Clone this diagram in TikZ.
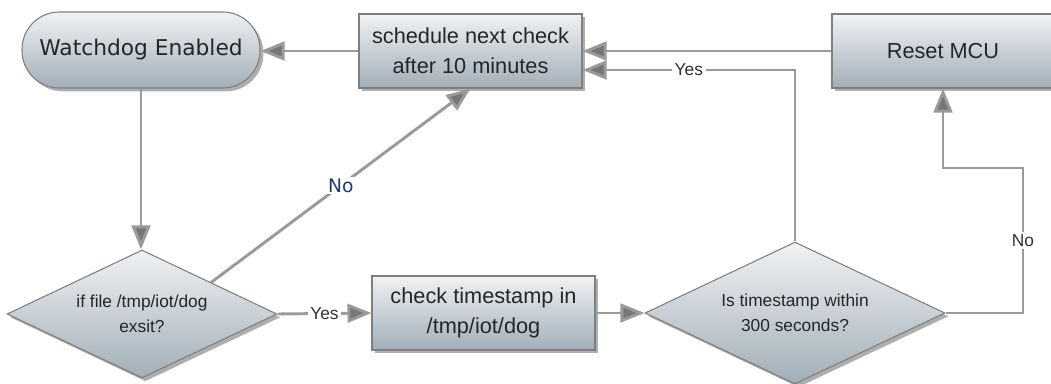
\documentclass[tikz,border=0pt]{standalone}
\usepackage{fontspec}
\setmainfont{Liberation Sans}
\newfontfamily\dejavu{DejaVu Sans}
\usetikzlibrary{shapes.geometric,arrows.meta,shadows,calc}
\definecolor{boxtop}{HTML}{F0F2F4}
\definecolor{boxbot}{HTML}{A1AEB8}
\definecolor{boxline}{HTML}{7F7F7F}
\definecolor{connline}{HTML}{9A9A9A}
\definecolor{arrowfill}{HTML}{767676}
\definecolor{navy}{HTML}{1F3A6E}
\tikzset{
  boxbase/.style={draw=boxline, line width=0.8pt, top color=boxtop, bottom color=boxbot,
    drop shadow={shadow xshift=2.5pt, shadow yshift=-2.5pt, opacity=0.45, fill=black!70},
    align=center, inner sep=0pt, text=black!85},
  bigtext/.style={font=\fontsize{16.3}{22.5}\selectfont},
  smalltext/.style={font=\fontsize{13}{19}\selectfont},
  procbox/.style={boxbase, bigtext, rectangle, minimum width=167.25pt, minimum height=55.5pt},
  startbox/.style={boxbase, rectangle, rounded corners=28pt, minimum width=178.5pt, minimum height=57pt,
    font=\dejavu\fontsize{16.3}{22.5}\selectfont},
  decbox/.style={boxbase, smalltext, diamond, aspect=2},
  conn/.style={draw=connline, line width=2.2pt, -{Triangle[length=18pt,width=14pt,fill=arrowfill]}},
  lab/.style={fill=white, inner sep=2pt, smalltext, text=black!80},
}
\begin{document}
\begin{tikzpicture}[x=0.75pt,y=-0.75pt]
\useasboundingbox (0,0) rectangle (1051,383);
\node[startbox] (wd) at (141,50) {Watchdog Enabled};
\node[procbox] (sched) at (470.5,51) {schedule next check\\after 10 minutes};
\node[procbox, minimum width=166.5pt] (reset) at (943,51) {Reset MCU};
\node[decbox, minimum width=202.5pt, minimum height=96pt] (d1) at (142,314) {if file /tmp/iot/dog\\exsit?};
\node[procbox] (check) at (483.5,313) {check timestamp in\\/tmp/iot/dog};
\node[decbox, minimum width=225pt, minimum height=106.5pt] (d2) at (795,313) {Is timestamp within\\300 seconds?};
\coordinate (d1ne) at ($(d1.north)!0.51!(d1.east)$);
\coordinate (schedyes) at ([yshift=-14.25pt]sched.east);
\coordinate (nr) at (1023,168);
\draw[conn] (sched.west) -- (sched.west -| wd.east);
\draw[conn] (wd.south) -- (wd.south |- d1.north);
\draw[conn] (d1ne) -- node[lab, font=\dejavu\fontsize{14}{16}\selectfont, text=navy, inner sep=1pt] {No} (sched.south);
\draw[conn] (d1.east) -- node[lab] {Yes} (check.west);
\draw[conn] (check.east) -- (d2.west);
\draw[conn] (d2.north) |- node[lab, pos=0.75] {Yes} (schedyes);
\draw[conn] (reset.west) -- (sched.east);
\draw[conn] (d2.east) -| node[lab, pos=0.75] {No} (nr) -| (reset.south);
\end{tikzpicture}
\end{document}
